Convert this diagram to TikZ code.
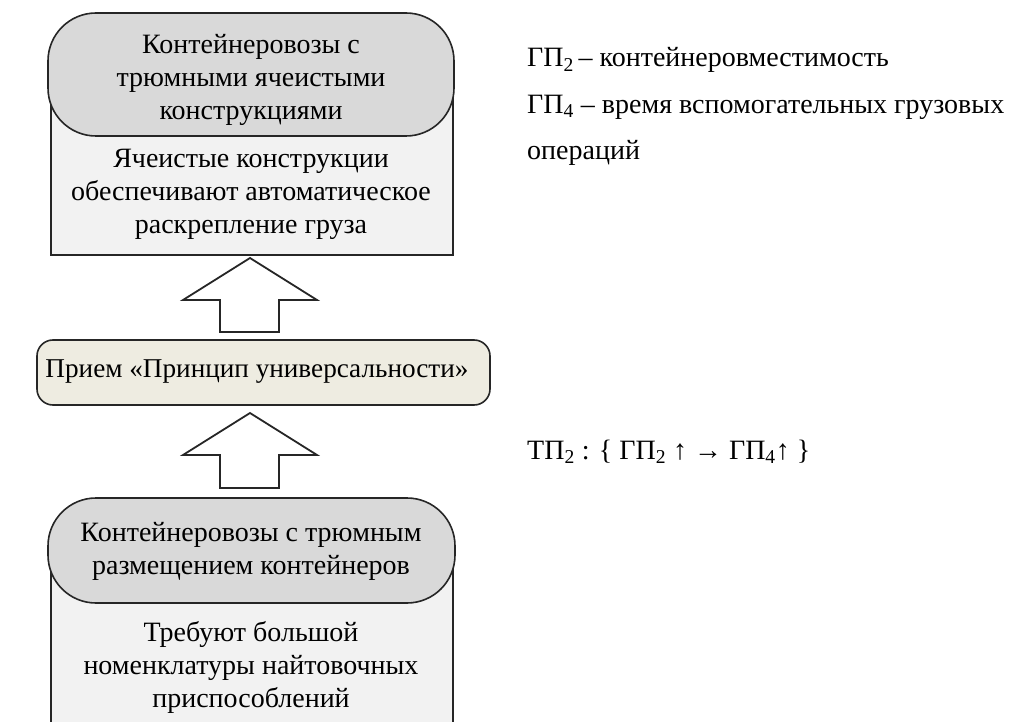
\documentclass[tikz,border=0pt]{standalone}
\usepackage{fontspec}
\setmainfont{Liberation Serif}
\definecolor{capgray}{HTML}{D9D9D9}
\definecolor{boxgray}{HTML}{F2F2F2}
\definecolor{midfill}{HTML}{EEECE1}
\definecolor{edge}{HTML}{262626}
\tikzset{
  txt/.style={font=\fontsize{28}{33}\selectfont, align=center, inner sep=0pt},
  side/.style={font=\fontsize{28}{33}\selectfont, anchor=west, inner sep=0pt},
  bodybox/.style={draw=edge, fill=boxgray, line width=1.6pt},
  capbox/.style={draw=edge, fill=capgray, line width=1.6pt, rounded corners=48pt},
  midbox/.style={draw=edge, fill=midfill, line width=1.6pt, rounded corners=16pt},
  blockarrow/.style={draw=edge, fill=white, line width=1.8pt, line join=miter}
}
\begin{document}
\begin{tikzpicture}[x=1pt,y=-1pt]
\useasboundingbox (0,0) rectangle (1017,722);
\clip (0,0) rectangle (1017,722);
% top group
\draw[bodybox] (51,60) rectangle (453,255);
\draw[capbox] (48,13) rectangle (454,136);
\node[txt] (topcap) at (251,80) {Контейнеровозы с\\трюмными ячеистыми\\конструкциями};
\node[txt] (topbody) at (251,194) {Ячеистые конструкции\\обеспечивают автоматическое\\раскрепление груза};
% arrow 1
\draw[blockarrow] (250,258) -- (317,300) -- (279,300) -- (279,332) -- (220,332) -- (220,300) -- (183,300) -- cycle;
% middle
\draw[midbox] (37,340) rectangle (490,405);
\node[txt, font=\fontsize{27.2}{33}\selectfont] (mid) at (257,372) {Прием «Принцип универсальности»};
% arrow 2
\draw[blockarrow] (250,413) -- (317,455) -- (279,455) -- (279,488) -- (220,488) -- (220,455) -- (183,455) -- cycle;
% bottom group
\draw[bodybox] (51,560) rectangle (453,740);
\draw[capbox] (48,498) rectangle (455,603);
\node[txt] (botcap) at (251,551) {Контейнеровозы с трюмным\\размещением контейнеров};
\node[txt] (botbody) at (251,667) {Требуют большой\\номенклатуры найтовочных\\приспособлений};
% side notes
\node[side] (gp2) at (527,60) {ГП\textsubscript{2}\,– контейнеровместимость};
\node[side] (gp4) at (527,107) {ГП\textsubscript{4} – время вспомогательных грузовых};
\node[side] (ops) at (527,153) {операций};
\node[side] (tp) at (527,452) {ТП\textsubscript{2} : \{ ГП\textsubscript{2} ↑ → ГП\textsubscript{4}↑ \}};
\end{tikzpicture}
\end{document}
